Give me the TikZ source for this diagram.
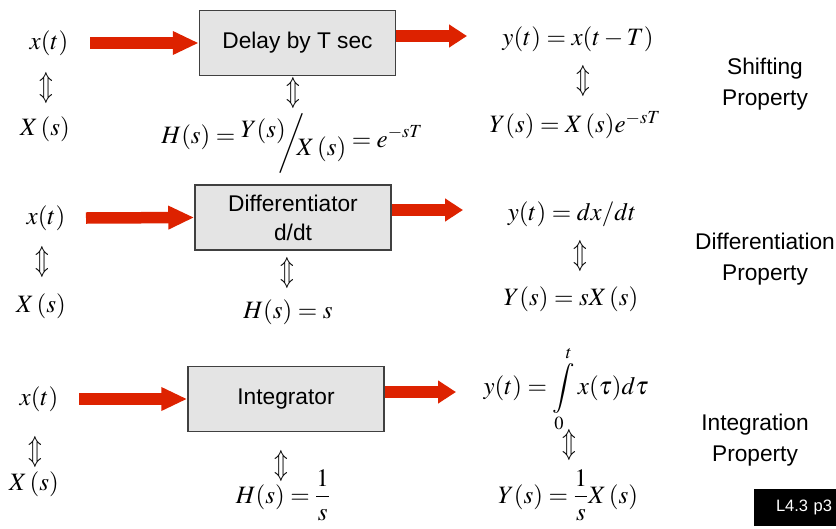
\documentclass[tikz,border=0pt]{standalone}
\usepackage{graphicx}
\usepackage{mathptmx}
\usepackage[no-math]{fontspec}
\setsansfont{Liberation Sans}
\usetikzlibrary{arrows.meta}

\definecolor{sigred}{RGB}{221,34,0}
\definecolor{boxgray}{RGB}{228,228,228}
\definecolor{boxedge}{RGB}{64,64,64}

\newcommand{\udarrow}{\scalebox{0.9}[1.2]{$\Updownarrow$}}

\begin{document}
\begin{tikzpicture}[x=1pt,y=-1pt]
  \tikzset{sysblock/.style={draw=boxedge,fill=boxgray,line width=1.5pt,minimum width=196pt,minimum height=65pt,inner sep=0pt,align=center,font=\sffamily\fontsize{22.7}{29}\selectfont}}
  \tikzset{mathlabel/.style={inner sep=0pt,font=\fontsize{25}{30}\selectfont}}
  \tikzset{proplabel/.style={inner sep=0pt,align=center,font=\sffamily\fontsize{22.7}{31}\selectfont}}
  \tikzset{inarrow/.style={draw=sigred,line width=11.5pt,-{Triangle[width=22pt,length=26pt]}}}
  \tikzset{outarrow/.style={draw=sigred,line width=11.5pt,-{Triangle[width=22pt,length=18pt]}}}

  \useasboundingbox (0,0) rectangle (836,528);

  % shifting
  \node[mathlabel] (x1)   at (49,43)   {$x(t)$};
  \node[mathlabel] (ud1l) at (46,88)   {\udarrow};
  \node[mathlabel] (X1)   at (45,129)  {$X\,(s)$};
  \node[sysblock]  (box1) at (297.5,43) {Delay by T sec};
  \node[mathlabel] (ud1c) at (293,93)  {\udarrow};
  \node[mathlabel,anchor=base] (h1) at (292,143)
    {$H(s)=\smash{\raisebox{6pt}{$Y(s)$}}\mkern-5mu\smash{\raisebox{-7pt}{$\bigg/$}}\mkern-6mu\raisebox{-12pt}{$X\,(s)$}\raisebox{-4pt}{$\;=e^{-sT}$}$};
  \node[mathlabel] (y1)   at (578,39)  {$y(t)=x(t-T)$};
  \node[mathlabel] (ud1r) at (583,81)  {\udarrow};
  \node[mathlabel] (Y1)   at (575,125) {$Y(s)=X\,(s)e^{-sT}$};
  \node[proplabel] (prop1) at (765,84) {Shifting\\Property};

  \coordinate (in1)  at (90,43);
  \coordinate (out1) at (467,36);
  \draw[inarrow]  (in1) -- (box1.west);
  \draw[outarrow] (box1.east |- out1) -- (out1);

  % differentiation
  \node[mathlabel] (x2)   at (46,218)  {$x(t)$};
  \node[mathlabel] (ud2l) at (42,262)  {\udarrow};
  \node[mathlabel] (X2)   at (41,306)  {$X\,(s)$};
  \node[sysblock]  (box2) at (293,217.5) {Differentiator\\d/dt};
  \node[mathlabel] (ud2c) at (287,273) {\udarrow};
  \node[mathlabel] (h2)   at (288,312) {$H(s)=s$};
  \node[mathlabel] (y2)   at (572,214) {$y(t)=dx/dt$};
  \node[mathlabel] (ud2r) at (580,256) {\udarrow};
  \node[mathlabel] (Y2)   at (571,299) {$Y(s)=sX\,(s)$};
  \node[proplabel] (prop2) at (765,259) {Differentiation\\Property};

  \coordinate (in2)  at (86,218);
  \coordinate (out2) at (463,210);
  \draw[inarrow]  (in2) -- (box2.west);
  \draw[outarrow] (box2.east |- out2) -- (out2);

  % integration
  \node[mathlabel] (x3)   at (39,399)  {$x(t)$};
  \node[mathlabel] (ud3l) at (35,452)  {\udarrow};
  \node[mathlabel] (X3)   at (34,484)  {$X\,(s)$};
  \node[sysblock]  (box3) at (286,399) {Integrator};
  \node[mathlabel] (ud3c) at (281,466) {\udarrow};
  \node[mathlabel] (h3)   at (283,495) {$H(s)=\displaystyle\frac{1}{s}$};
  \node[mathlabel] (y3)   at (566,389) {$y(t)=\displaystyle\int\limits_0^t x(\tau)d\tau$};
  \node[mathlabel] (ud3r) at (569,445) {\udarrow};
  \node[mathlabel] (Y3)   at (568,495) {$Y(s)=\displaystyle\frac{1}{s}X\,(s)$};
  \node[proplabel] (prop3) at (755,440) {Integration\\Property};

  \coordinate (in3)  at (79,399);
  \coordinate (out3) at (456,392);
  \draw[inarrow]  (in3) -- (box3.west);
  \draw[outarrow] (box3.east |- out3) -- (out3);

  \node[fill=black,text=white,inner xsep=4pt,inner ysep=0pt,text width=74pt,align=right,
        minimum height=37pt,font=\sffamily\fontsize{16.5}{20}\selectfont] (tag) at (795,507.5) {L4.3 p3};
\end{tikzpicture}
\end{document}
